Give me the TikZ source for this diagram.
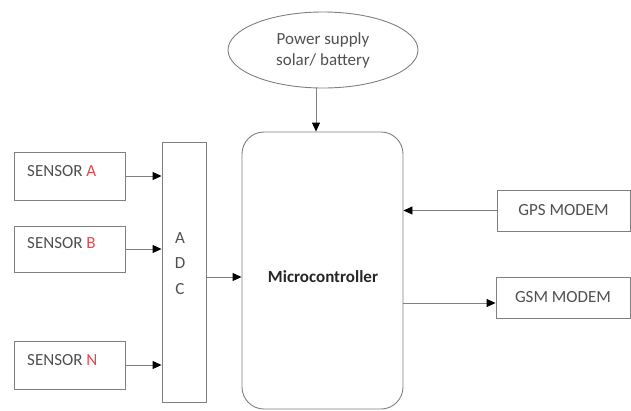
\documentclass[tikz,border=0pt]{standalone}
\usepackage{fontspec}
\setmainfont{Carlito}
\usetikzlibrary{arrows.meta,shapes.geometric}
\definecolor{ln}{HTML}{808080}
\definecolor{tx}{HTML}{505050}
\definecolor{rd}{HTML}{E5484D}
\begin{document}
\begin{tikzpicture}[x=1pt,y=-1pt,
  font=\fontsize{17}{20}\selectfont,
  box/.style={draw=ln, line width=0.9pt, inner sep=0pt, text=tx},
  lbl/.style={text=tx, inner sep=0pt},
  arr/.style={draw=ln, line width=0.9pt, -{Triangle[length=9pt,width=8pt,color=black]}}]
\useasboundingbox (0,0) rectangle (631,410);
% power supply
\node[box, ellipse, minimum width=190pt, minimum height=76pt, align=center] (ps) at (323,50)
  {Power supply\\[1pt]solar/ battery};
% microcontroller
\node[box, rounded corners=22pt, minimum width=161pt, minimum height=277pt] (mc) at (322.5,270.5) {};
\node[lbl, font=\fontsize{17}{20}\selectfont\bfseries, text=black!85] (mct) at (323,277) {Microcontroller};
% ADC
\node[box, minimum width=44pt, minimum height=260pt] (adc) at (184,272) {};
\node[lbl] (adca) at (180,238) {A};
\node[lbl] (adcd) at (180,263) {D};
\node[lbl] (adcc) at (180,289) {C};
% sensors
\node[box, minimum width=111pt, minimum height=48pt] (sa) at (69.5,176) {};
\node[lbl, anchor=west] (sat) at (27,171) {SENSOR \textcolor{rd}{A}};
\node[box, minimum width=111pt, minimum height=46pt] (sb) at (69.5,249) {};
\node[lbl, anchor=west] (sbt) at (27,243) {SENSOR \textcolor{rd}{B}};
\node[box, minimum width=111pt, minimum height=48pt] (sn) at (69.5,365) {};
\node[lbl, anchor=west] (snt) at (27,360) {SENSOR \textcolor{rd}{N}};
% modems
\node[box, minimum width=133pt, minimum height=41pt] (gps) at (563.5,210.5) {GPS MODEM};
\node[box, minimum width=134pt, minimum height=41pt] (gsm) at (563,297.5) {GSM MODEM};
% connectors
\draw[arr] (sa.east) -- (sa.east -| adc.west);
\draw[arr] (sb.east) -- (sb.east -| adc.west);
\draw[arr] (sn.east) -- (sn.east -| adc.west);
\draw[arr] ([yshift=-5pt]adc.east) -- ([yshift=-5pt]adc.east -| mc.west);
\draw[arr] ([xshift=-7pt]ps.south) -- ([xshift=-7pt]ps.south |- mc.north);
\draw[arr] (gps.west) -- (gps.west -| mc.east);
\draw[arr] ([yshift=-5.5pt]mc.east |- gsm.west) -- ([yshift=-5.5pt]gsm.west);
\end{tikzpicture}
\end{document}
